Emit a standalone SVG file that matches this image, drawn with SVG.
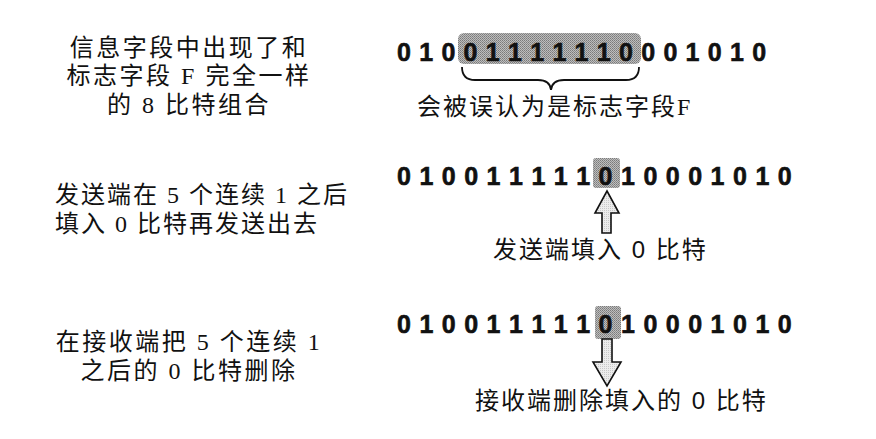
<svg xmlns="http://www.w3.org/2000/svg" width="876" height="439" viewBox="0 0 876 439">
<defs>
<pattern id="dots" width="2" height="2" patternUnits="userSpaceOnUse">
<rect width="2" height="2" fill="#bdbdbd"/>
<rect width="1" height="1" fill="#7a7a7a"/>
<rect x="1" y="1" width="1" height="1" fill="#8c8c8c"/>
</pattern>
<pattern id="light" width="2" height="2" patternUnits="userSpaceOnUse">
<rect width="2" height="2" fill="#ececec"/>
<rect width="1" height="1" fill="#c8c8c8"/>
</pattern>
</defs>
<style>
.desc{font-family:"Liberation Serif","Noto Sans CJK SC",serif;font-size:24px;fill:#111;letter-spacing:2.5px}
.tight{letter-spacing:2px}
.bits{font-family:"Liberation Sans",Arial,sans-serif;font-weight:bold;font-size:25px;fill:#111;stroke:#111;stroke-width:0.6}
.lbl{font-family:"Liberation Sans","Noto Sans CJK SC",sans-serif;font-size:24px;fill:#111;letter-spacing:2px}
.serif{font-family:"Liberation Serif","Noto Sans CJK SC",serif}
.hl{fill:url(#dots)}
.arrow{fill:url(#light);stroke:#111;stroke-width:1.6;stroke-linejoin:miter}
.brace{fill:none;stroke:#111;stroke-width:1.8}
</style>
<rect width="876" height="439" fill="#fff"/>

<g id="desc1">
<text class="desc" x="189" y="56" text-anchor="middle">信息字段中出现了和</text>
<text class="desc" x="189" y="84" text-anchor="middle">标志字段 F 完全一样</text>
<text class="desc" x="189" y="113" text-anchor="middle">的 8 比特组合</text>
</g>
<g id="desc2">
<text class="desc tight" x="55" y="203">发送端在 5 个连续 1 之后</text>
<text class="desc tight" x="55" y="232">填入 0 比特再发送出去</text>
</g>
<g id="desc3">
<text class="desc" x="189" y="350" text-anchor="middle">在接收端把 5 个连续 1</text>
<text class="desc" x="189" y="379" text-anchor="middle">之后的 0 比特删除</text>
</g>

<g id="row1">
<rect class="hl" x="458" y="33" width="183" height="31" rx="6"/>
<text class="bits" x="397 419.2 441.4 463.6 485.8 508 530.2 552.4 574.6 596.8 619 641.2 663.4 685.6 707.8 730 752.2" y="61">01001111110001010</text>
</g>
<g id="row2">
<rect class="hl" x="593" y="158" width="27" height="30" rx="3"/>
<text class="bits" x="397 419.4 441.8 464.2 486.6 509 531.4 553.8 576.2 598.6 621 643.4 665.8 688.2 710.6 733 755.4 777.8" y="185">010011111010001010</text>
</g>
<g id="row3">
<rect class="hl" x="595" y="306" width="26" height="33" rx="3"/>
<text class="bits" x="397 419.4 441.8 464.2 486.6 509 531.4 553.8 576.2 598.6 621 643.4 665.8 688.2 710.6 733 755.4 777.8" y="333">010011111010001010</text>
</g>

<g id="label1">
<text class="lbl" x="417" y="115">会被误认为是标志字段<tspan class="serif">F</tspan></text>
</g>
<g id="label2">
<text class="lbl" x="493" y="258" letter-spacing="2.8">发送端填入 0 比特</text>
</g>
<g id="label3">
<text class="lbl" x="475" y="409">接收端删除填入的 0 比特</text>
</g>

<g id="connectors">
<path class="brace" d="M462,67 Q462,80 475,80 L538,80 Q550,80 551,90 Q552,80 564,80 L626,80 Q639,80 639,67"/>
<path class="arrow" d="M607,191 L619,213 L611,213 L611,233 L602,233 L602,213 L595,213 Z"/>
<path class="arrow" d="M602,339 L612,339 L612,362 L621,362 L607,386 L593,362 L602,362 Z"/>
</g>
</svg>
